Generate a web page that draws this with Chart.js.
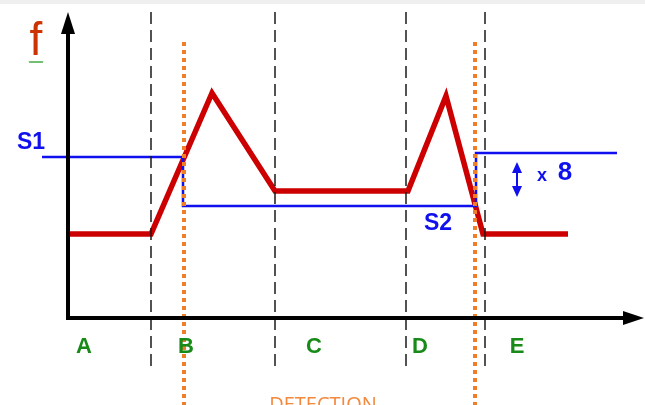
<!DOCTYPE html>
<html>
<head>
<meta charset="utf-8">
<script src="https://cdn.jsdelivr.net/npm/chart.js@4.4.0/dist/chart.umd.min.js"></script>
<style>
  html, body { margin: 0; padding: 0; background: #fff; }
  #wrap { width: 645px; height: 405px; }
</style>
</head>
<body>
<div id="wrap"><canvas id="graf"></canvas></div>
<script>
// tiempo (t) y frecuencia (f), origen en el cruce de los ejes
const redT = [2, 83, 144, 207, 340, 378, 415, 500];
const redF = [84, 84, 225, 127, 127, 222, 84, 84];

const blueT = [-26, 115, 115, 408, 408, 549];
const blueF = [161, 161, 112, 112, 165, 165];

const dividerT = [83, 207, 338, 417];
const dividerF = [306, -52];

const detectT = [116, 407];
const detectF = [276, -90];

const zoneLabels = ['A', 'B', 'C', 'D', 'E'];
const zoneT = [16, 118, 246, 352, 449];

const toPts = (ts, fs) => ts.map((t, i) => ({ x: t, y: fs[i] }));

const datasets = [];
dividerT.forEach(t => datasets.push({
  data: [{ x: t, y: dividerF[0] }, { x: t, y: dividerF[1] }],
  borderColor: '#1a1a1a', borderWidth: 1.5, borderDash: [12, 6], pointRadius: 0
}));
detectT.forEach(t => datasets.push({
  data: [{ x: t, y: detectF[0] }, { x: t, y: detectF[1] }],
  borderColor: '#f07d28', borderWidth: 4, borderDash: [4, 4], pointRadius: 0
}));
datasets.push({
  data: toPts(blueT, blueF),
  borderColor: '#1010ee', borderWidth: 2.5, pointRadius: 0
});
datasets.push({
  data: toPts(redT, redF),
  borderColor: '#cc0000', borderWidth: 5.5, pointRadius: 0,
  borderJoinStyle: 'miter'
});

const decor = {
  id: 'decor',
  afterDatasetsDraw(chart) {
    const { ctx, scales: { x, y } } = chart;
    const X = v => x.getPixelForValue(v);
    const Y = v => y.getPixelForValue(v);

    // franja gris arriba
    ctx.save();
    ctx.fillStyle = '#efefef';
    ctx.fillRect(0, 0, chart.width, 4);

    // ejes
    ctx.strokeStyle = '#000';
    ctx.fillStyle = '#000';
    ctx.lineWidth = 4;
    ctx.beginPath();
    ctx.moveTo(X(0), Y(0));
    ctx.lineTo(X(0), Y(285));
    ctx.moveTo(X(-2), Y(0));
    ctx.lineTo(X(560), Y(0));
    ctx.stroke();
    // flechas
    ctx.beginPath();
    ctx.moveTo(X(0), Y(306));
    ctx.lineTo(X(-7), Y(284));
    ctx.lineTo(X(7), Y(284));
    ctx.closePath();
    ctx.fill();
    ctx.beginPath();
    ctx.moveTo(X(576), Y(0));
    ctx.lineTo(X(555), Y(7));
    ctx.lineTo(X(555), Y(-7));
    ctx.closePath();
    ctx.fill();

    // doble flecha
    const ax = X(449);
    ctx.strokeStyle = '#1010ee';
    ctx.fillStyle = '#1010ee';
    ctx.lineWidth = 2;
    ctx.beginPath();
    ctx.moveTo(ax, Y(150));
    ctx.lineTo(ax, Y(126));
    ctx.stroke();
    ctx.beginPath();
    ctx.moveTo(ax, Y(156));
    ctx.lineTo(ax - 5, Y(145));
    ctx.lineTo(ax + 5, Y(145));
    ctx.closePath();
    ctx.fill();
    ctx.beginPath();
    ctx.moveTo(ax, Y(121));
    ctx.lineTo(ax - 5, Y(132));
    ctx.lineTo(ax + 5, Y(132));
    ctx.closePath();
    ctx.fill();

    // textos
    ctx.textAlign = 'center';
    ctx.textBaseline = 'alphabetic';
    ctx.fillStyle = '#cc3300';
    ctx.font = '46px "Liberation Sans", Arial, sans-serif';
    ctx.fillText('f', X(-32), Y(263));
    ctx.strokeStyle = '#44aa44';
    ctx.lineWidth = 0.9;
    ctx.beginPath();
    for (let i = 0; i <= 14; i++) {
      const px = X(-39) + i;
      const py = Y(256) + (i % 2 ? 1 : -1);
      i ? ctx.lineTo(px, py) : ctx.moveTo(px, py);
    }
    ctx.stroke();

    ctx.textBaseline = 'middle';
    ctx.fillStyle = '#1010ee';
    ctx.font = 'bold 23px "Liberation Sans", Arial, sans-serif';
    ctx.fillText('S1', X(-37), Y(175));
    ctx.fillText('S2', X(370), Y(94));
    ctx.font = 'bold 18px "Liberation Sans", Arial, sans-serif';
    ctx.fillText('x', X(474), Y(142));
    ctx.font = 'bold 26px "Liberation Sans", Arial, sans-serif';
    ctx.fillText('8', X(497), Y(145));

    ctx.fillStyle = '#178a17';
    ctx.font = 'bold 22px "Liberation Sans", Arial, sans-serif';
    zoneLabels.forEach((l, i) => ctx.fillText(l, X(zoneT[i]), Y(-29)));

    ctx.fillStyle = '#f4883c';
    ctx.font = '20px "Open Sans", sans-serif';
    ctx.textBaseline = 'alphabetic';
    ctx.fillText('DETECTION', X(255), Y(-93));
    ctx.restore();
  }
};

new Chart(document.getElementById('graf'), {
  type: 'line',
  data: { datasets },
  options: {
    responsive: true,
    maintainAspectRatio: false,
    animation: false,
    layout: { padding: 0 },
    plugins: { legend: { display: false }, tooltip: { enabled: false } },
    scales: {
      x: { type: 'linear', min: -68, max: 577, display: false },
      y: { type: 'linear', min: -87, max: 318, display: false }
    }
  },
  plugins: [decor]
});
</script>
</body>
</html>
